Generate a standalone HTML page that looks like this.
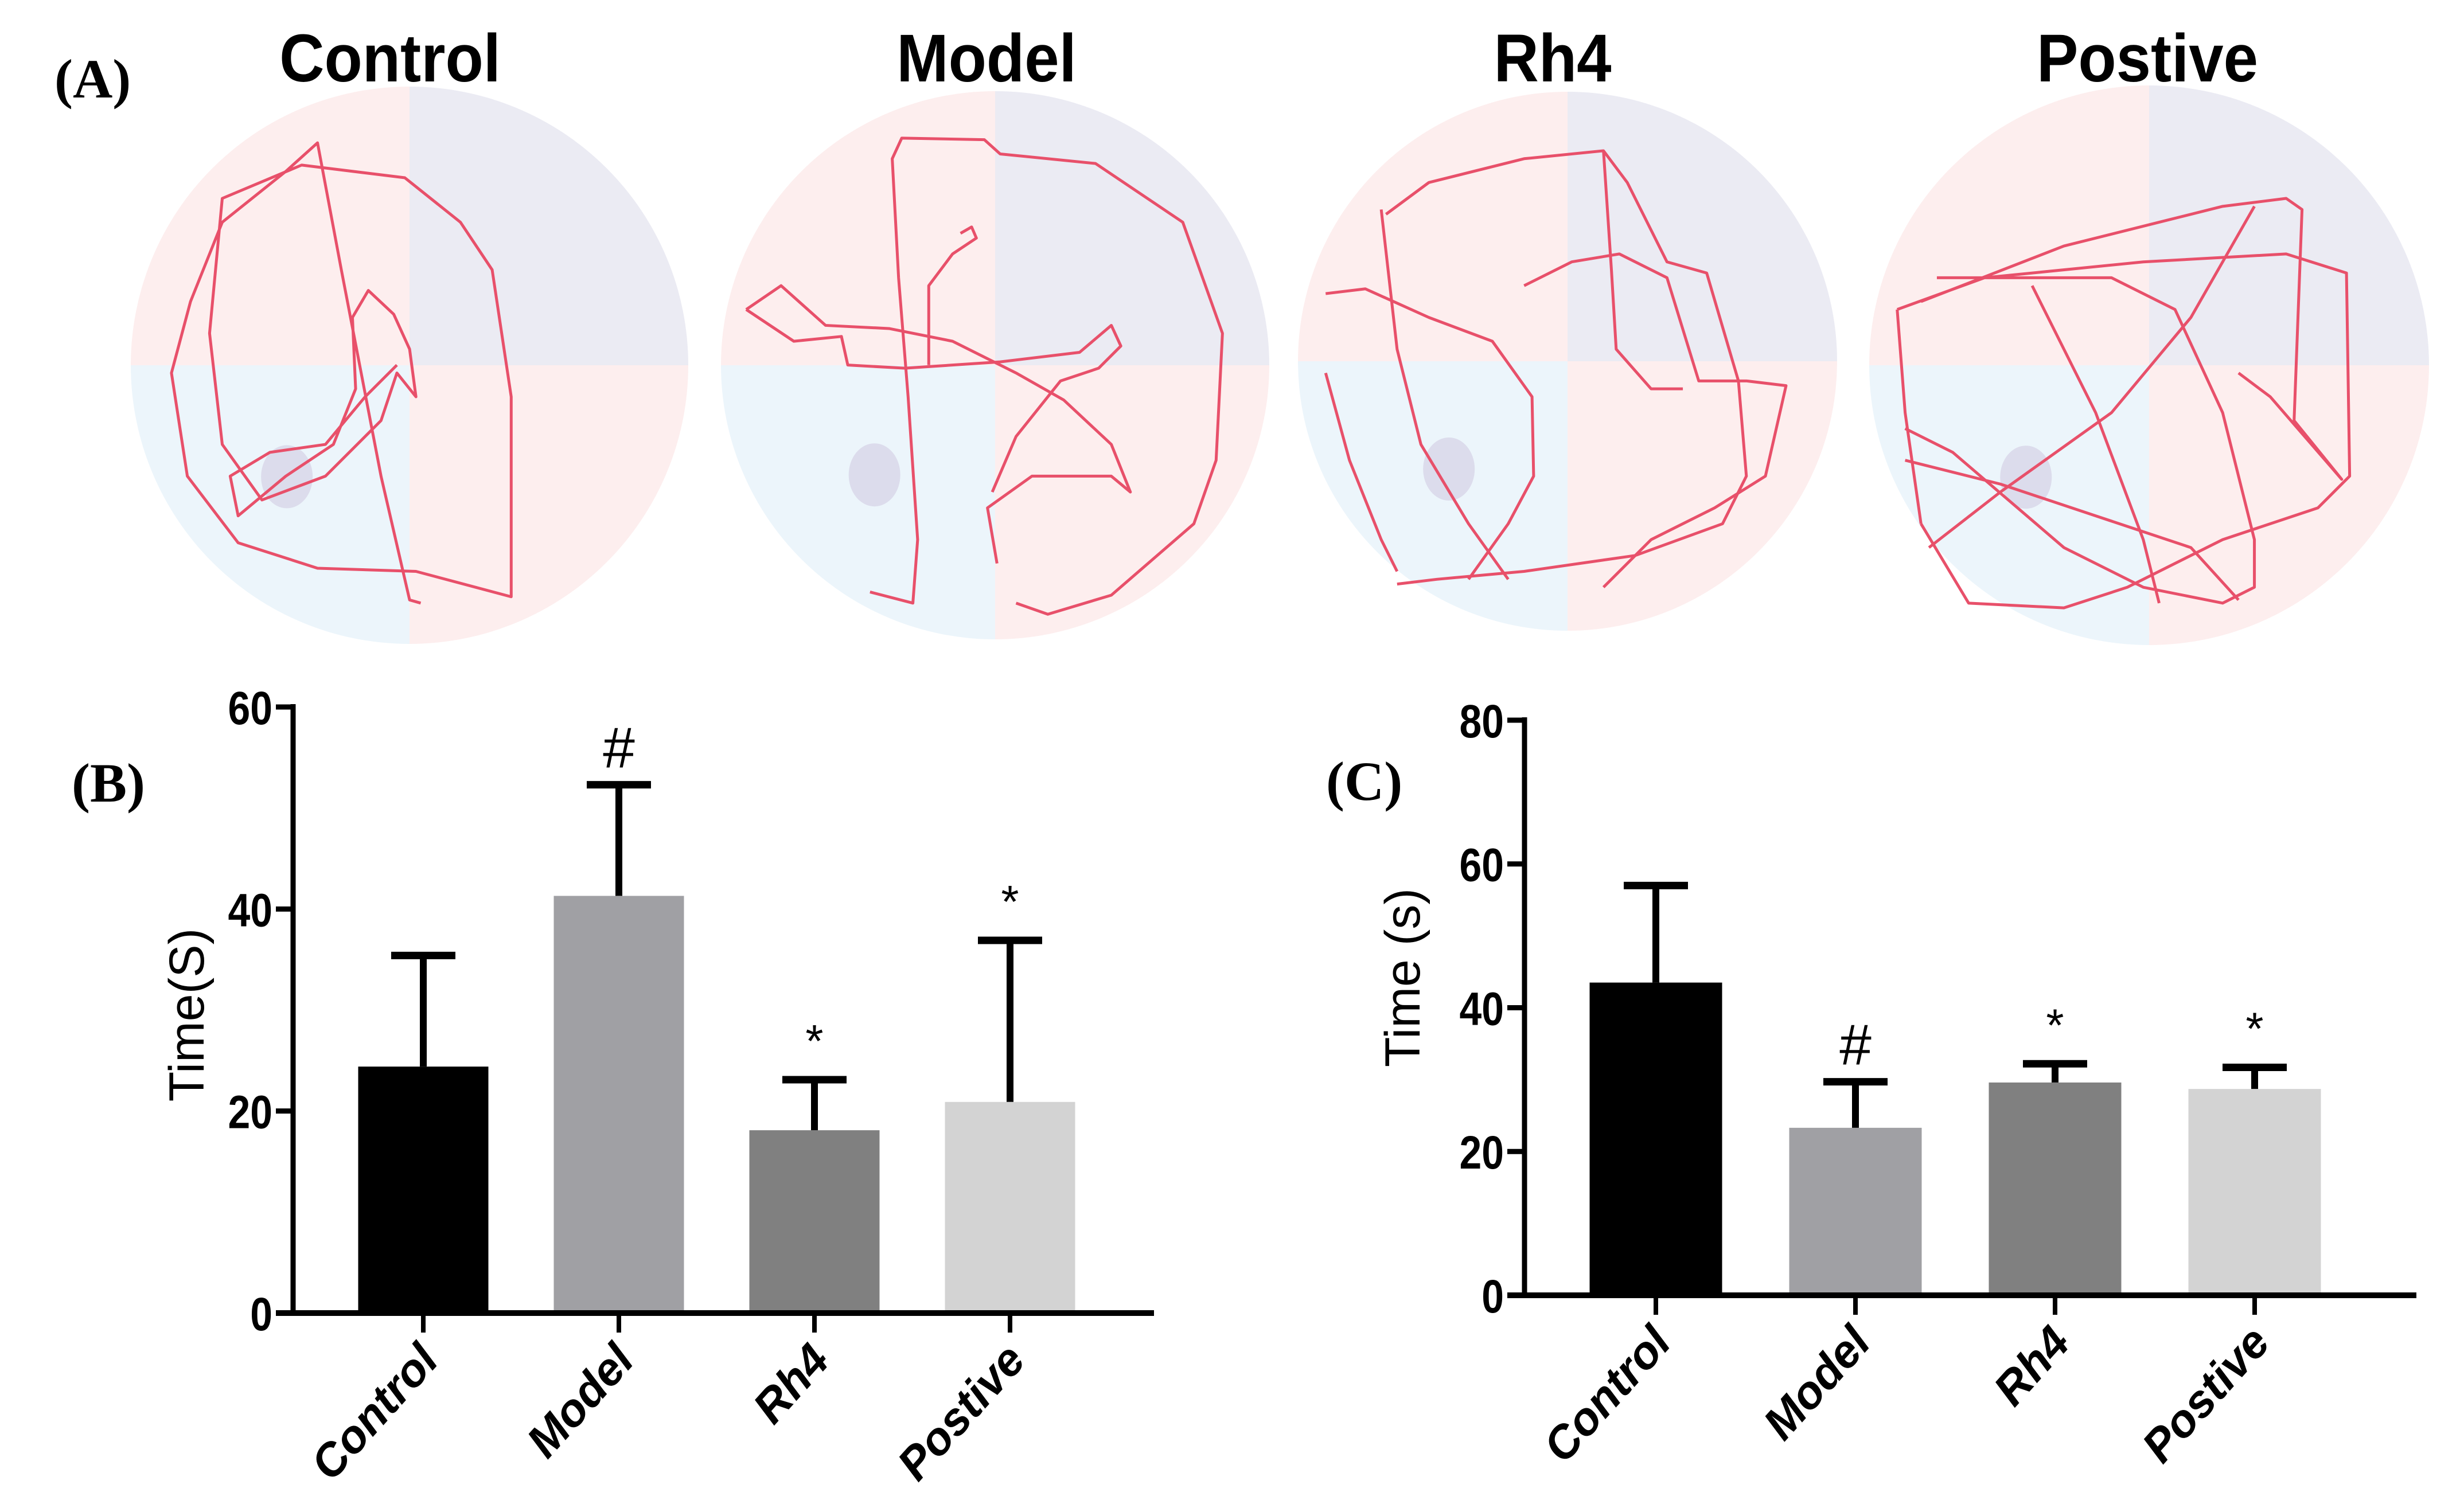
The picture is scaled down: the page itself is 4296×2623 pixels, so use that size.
<!DOCTYPE html>
<html><head><meta charset="utf-8"><style>
html,body{margin:0;padding:0;background:#fff;}
svg{display:block;}
.tick{font-family:"Liberation Sans",sans-serif;font-weight:bold;font-size:82px;}
.cat{font-family:"Liberation Sans",sans-serif;font-weight:bold;font-style:italic;font-size:80px;}
.ytitle{font-family:"Liberation Sans",sans-serif;font-size:86px;}
.plabel{font-family:"Liberation Serif",serif;font-weight:bold;font-size:96px;}
.ctitle{font-family:"Liberation Sans",sans-serif;font-weight:bold;font-size:118px;}
.sig{font-family:"Liberation Sans",sans-serif;}
</style></head><body>
<svg id="fig" width="4296" height="2623" viewBox="0 0 4296 2623" xmlns="http://www.w3.org/2000/svg">
<text class="plabel" x="95" y="170">(A)</text>
<text class="plabel" x="125" y="1398">(B)</text>
<text class="plabel" x="2312" y="1395">(C)</text>
<g id="mazes"></g>
<g id="chartB"></g>
<g id="chartC"></g>
</svg>
<script>
const categories = ["Control","Model","Rh4","Postive"];
const barColors = ["#000000","#a0a0a4","#808080","#d3d3d3"];
const seriesB = [24.4, 41.3, 18.1, 20.9];
const errorB = [11.0, 11.0, 5.0, 16.0];
const marksB = ["", "#", "*", "*"];
const ticksB = [0, 20, 40, 60];
const seriesC = [43.5, 23.3, 29.6, 28.7];
const errorC = [13.5, 6.4, 2.6, 3.0];
const marksC = ["", "#", "*", "*"];
const ticksC = [0, 20, 40, 60, 80];
const NS = "http://www.w3.org/2000/svg";
function mk(tag, attrs, parent){const e=document.createElementNS(NS,tag);for(const k in attrs)e.setAttribute(k,attrs[k]);parent.appendChild(e);return e;}

function drawChart(g, cfg, vals, errs, marks, ticks){
  const yScale = v => cfg.y0 - (v - 0) / (cfg.max) * (cfg.y0 - cfg.yTop);
  const xCenter = i => cfg.x0c + i * cfg.step;
  let ax = mk("line",{x1:cfg.ax,y1:cfg.yTop-5,x2:cfg.ax,y2:cfg.y0+5,stroke:"#000","stroke-width":9},g);
  
  
  ticks.forEach(t=>{
    const y=yScale(t);
    let l=mk("line",{x1:cfg.ax-30,y1:y,x2:cfg.ax,y2:y,stroke:"#000","stroke-width":9},g);
    
    
    const tx0=cfg.ax-36;
    let tx=mk("text",{x:tx0,y:y+30,"text-anchor":"end",class:"tick",transform:`translate(${tx0},0) scale(0.85,1) translate(${-tx0},0)`},g);
    tx.textContent=t;
    
    
  });
  vals.forEach((v,i)=>{
    const cx=xCenter(i), y=yScale(v), ye=yScale(v+errs[i]);
    let r=mk("rect",{x:cx-cfg.bw/2,y:y,width:cfg.bw,height:cfg.y0-y,fill:barColors[i]},g);
    
    
    let s=mk("line",{x1:cx,y1:y,x2:cx,y2:ye,stroke:"#000","stroke-width":12},g);
    
    
    let c=mk("line",{x1:cx-56,y1:ye,x2:cx+56,y2:ye,stroke:"#000","stroke-width":13},g);
    
    
    if(marks[i]){
      const isHash=marks[i]=="#";
      let m=mk("text",{x:cx,y:ye-(isHash?30:40),"text-anchor":"middle",class:"sig","font-size":isHash?100:80},g);
      m.textContent=marks[i];
      
      
    }
    let tk=mk("line",{x1:cx,y1:cfg.y0,x2:cx,y2:cfg.y0+34,stroke:"#000","stroke-width":8},g);
    
    
    const lx=cx+30, ly=cfg.y0+85;
    let lb=mk("text",{x:lx,y:ly,"text-anchor":"end",class:"cat",transform:`rotate(-48 ${lx} ${ly})`},g);
    lb.textContent=categories[i];
    
    
  });
  let xa=mk("line",{x1:cfg.ax-30,y1:cfg.y0,x2:cfg.xEnd,y2:cfg.y0,stroke:"#000","stroke-width":10},g);
  
  
  let yt=mk("text",{x:cfg.tx,y:cfg.ty,"text-anchor":"middle",class:"ytitle",transform:`rotate(-90 ${cfg.tx} ${cfg.ty})`},g);
  yt.textContent=cfg.title;
  
  
}
drawChart(document.getElementById("chartB"),
  {ax:511,yTop:1233,y0:2290,max:60,x0c:738,step:341,bw:227,xEnd:2012,tx:355,ty:1770,title:"Time(S)"},
  seriesB,errorB,marksB,ticksB);
drawChart(document.getElementById("chartC"),
  {ax:2658,yTop:1256,y0:2259,max:80,x0c:2887,step:348,bw:231,xEnd:4213,tx:2475,ty:1705,title:"Time (s)"},
  seriesC,errorC,marksC,ticksC);

const mazeTitles=["Control","Model","Rh4","Postive"];
const mazeCx=[714,1735,2733,3747];
const mazeCy=[637,637,630,637];
const mazeR=[486,478,470,488];
const titleX=[680,1720,2707,3744];
const paths=[
 "M265,380 L258,378 L240,300 L215,170 L200,90 L180,108 L140,140 L120,190 L108,235 L118,300 L150,342 L200,358 L262,360 L322,376 L322,250 L310,170 L290,140 L255,112 L190,104 L140,125 L132,210 L140,280 L165,315 L205,300 L240,265 L250,235 L262,250 L258,220 L248,198 L232,183 L222,200 L224,245 L210,280 L180,300 L150,325 L145,300 L170,285 L205,280 L230,250 L250,230",
 "M548,373 L575,380 L578,340 L572,250 L566,175 L562,100 L568,87 L620,88 L630,97 L690,103 L745,140 L770,210 L766,290 L752,330 L700,375 L660,387 L640,380 M470,195 L492,180 L520,205 L560,207 L600,215 L640,235 L670,252 L700,280 L712,310 L700,300 L650,300 L622,320 L628,355 M470,195 L500,215 L530,212 L534,230 L570,232 L630,228 L680,222 L700,205 L706,218 L692,232 L668,240 L640,275 L625,310 M585,230 L585,180 L600,160 L615,150 L612,143 L605,147",
 "M873,135 L900,115 L960,100 L1010,95 L1025,115 L1050,165 L1075,172 L1095,240 L1100,300 L1085,330 L1030,350 L960,360 L905,365 L880,368 M870,132 L880,220 L895,280 L925,330 L950,365 M835,185 L860,182 L900,200 L940,215 L965,250 L966,300 L950,330 L925,365 M960,180 L990,165 L1020,160 L1050,175 L1070,240 L1100,240 L1125,243 L1112,300 L1080,320 L1040,340 L1010,370 M1010,95 L1015,170 L1018,220 L1040,245 L1060,245 M835,235 L850,290 L870,340 L880,360",
 "M1195,195 L1250,175 L1350,165 L1440,160 L1478,172 L1480,300 L1460,320 L1400,340 L1340,370 L1300,383 L1240,380 L1210,330 M1210,190 L1300,155 L1400,130 L1440,125 L1450,132 L1445,265 L1475,302 L1430,250 L1410,235 M1195,195 L1200,260 L1210,330 M1220,175 L1330,175 L1370,195 L1400,260 L1420,340 L1420,370 L1400,380 L1350,370 L1300,345 L1230,285 L1200,270 M1200,290 L1260,305 L1320,325 L1380,345 L1410,378 M1420,130 L1380,200 L1330,260 L1260,310 L1215,345 M1280,180 L1320,260 L1350,340 L1360,380"
];
const mz=document.getElementById("mazes");
for(let i=0;i<4;i++){
  const cx=mazeCx[i],cy=mazeCy[i],r=mazeR[i];
  const grp=mk("g",{},mz);
  
  
  const cid="clip"+i;
  const cp=mk("clipPath",{id:cid},grp);
  mk("circle",{cx:cx,cy:cy,r:r},cp);
  const q=mk("g",{"clip-path":`url(#${cid})`},grp);
  mk("rect",{x:cx-r,y:cy-r,width:r,height:r,fill:"#fdeeee"},q);
  mk("rect",{x:cx,y:cy-r,width:r,height:r,fill:"#ebebf3"},q);
  mk("rect",{x:cx-r,y:cy,width:r,height:r,fill:"#ecf5fb"},q);
  mk("rect",{x:cx,y:cy,width:r,height:r,fill:"#fdeeee"},q);
  mk("ellipse",{cx:cx-r*0.44,cy:cy+r*0.4,rx:45,ry:55,fill:"#dcdcec"},q);
  let p=mk("path",{d:paths[i],fill:"none",stroke:"#e8506a","stroke-width":5,"stroke-linejoin":"round",transform:"scale(2.768)","vector-effect":"non-scaling-stroke"},grp);
  
  
  const tx=titleX[i];
  let t=mk("text",{x:tx,y:142,"text-anchor":"middle",class:"ctitle",transform:`translate(${tx},0) scale(0.92,1) translate(${-tx},0)`},mz);
  t.textContent=mazeTitles[i];
  
  
}
</script>
</body></html>
